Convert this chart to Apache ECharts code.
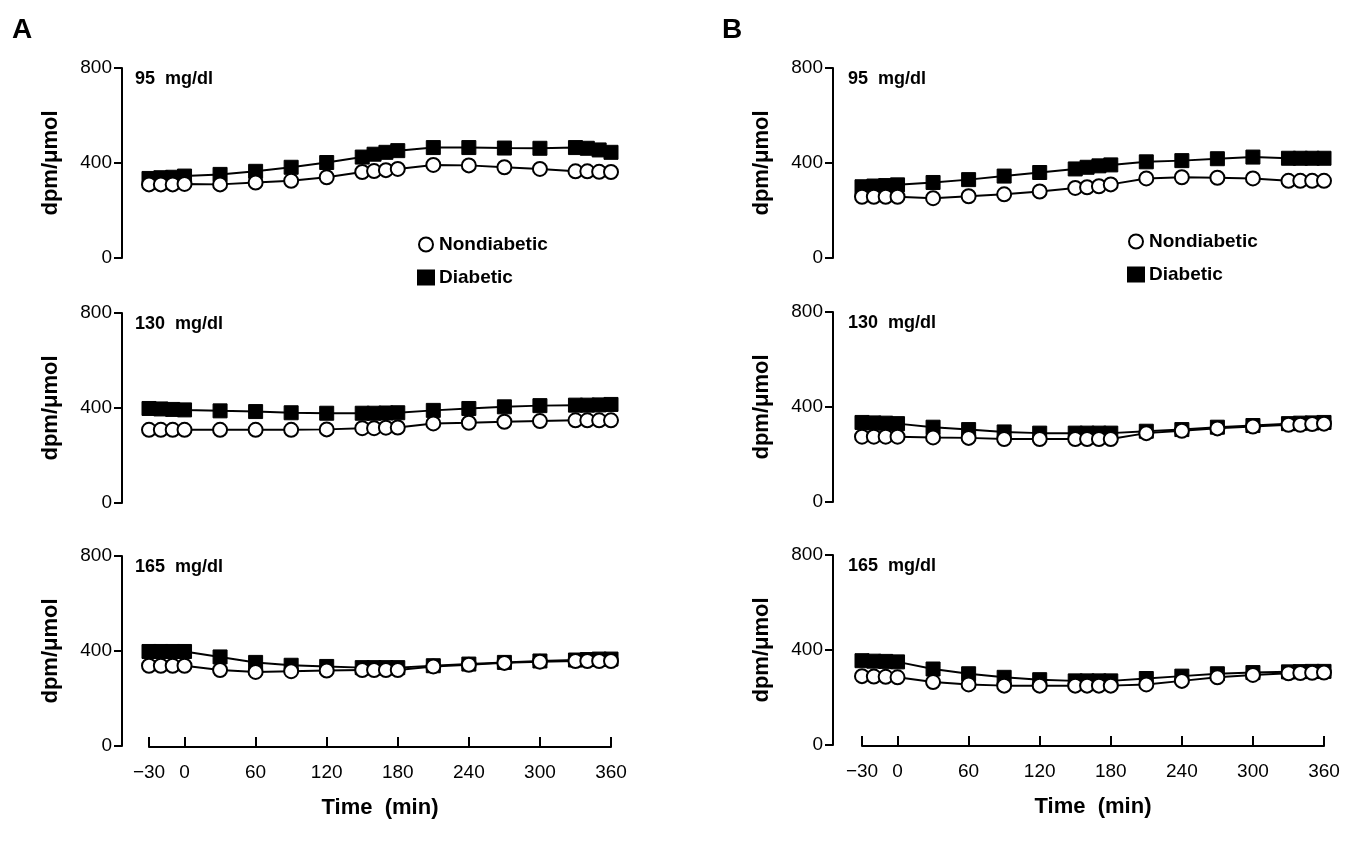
<!DOCTYPE html>
<html>
<head>
<meta charset="utf-8">
<script src="https://cdn.jsdelivr.net/npm/echarts@6/dist/echarts.min.js"></script>
<style>body{margin:0;background:#fff}#c{width:1358px;height:850px}</style>
</head>
<body>
<div id="c"></div>
<script>
var times = [-30, -20, -10, 0, 30, 60, 90, 120, 150, 160, 170, 180, 210, 240, 270, 300, 330, 340, 350, 360];
var xTicks = [-30, 0, 60, 120, 180, 240, 300, 360];
var yTicks = [0, 400, 800];
var glucose = ['95  mg/dl', '130  mg/dl', '165  mg/dl'];

// panel A
var aNon95 = [310, 310, 310, 312, 310, 318, 325, 340, 362, 366, 370, 375, 392, 390, 382, 375, 365, 365, 363, 362];
var aDia95 = [335, 338, 340, 345, 352, 365, 382, 402, 425, 437, 445, 452, 465, 465, 463, 462, 465, 462, 455, 445];
var aNon130 = [308, 308, 308, 308, 308, 308, 308, 310, 315, 315, 317, 318, 335, 338, 342, 345, 348, 348, 348, 348];
var aDia130 = [398, 396, 394, 392, 388, 385, 380, 378, 378, 378, 379, 380, 390, 398, 405, 410, 412, 412, 413, 415];
var aNon165 = [338, 338, 338, 338, 320, 312, 315, 318, 320, 320, 320, 320, 335, 342, 350, 355, 358, 358, 358, 358];
var aDia165 = [398, 398, 398, 398, 375, 352, 340, 335, 330, 330, 330, 330, 338, 345, 352, 358, 362, 364, 366, 366];
// panel B
var bNon95 = [258, 258, 258, 258, 252, 260, 268, 280, 295, 298, 302, 310, 335, 340, 338, 335, 325, 325, 325, 325];
var bDia95 = [300, 303, 305, 308, 318, 330, 345, 360, 375, 382, 388, 392, 405, 410, 418, 425, 420, 420, 420, 420];
var bNon130 = [275, 275, 275, 275, 272, 270, 265, 265, 265, 265, 265, 265, 290, 300, 310, 318, 325, 325, 328, 330];
var bDia130 = [335, 333, 332, 330, 315, 305, 295, 290, 290, 290, 290, 290, 298, 305, 315, 322, 330, 332, 333, 335];
var bNon165 = [290, 288, 287, 285, 265, 255, 250, 250, 250, 250, 250, 250, 255, 270, 285, 295, 302, 303, 304, 305];
var bDia165 = [355, 353, 352, 350, 320, 300, 285, 275, 270, 270, 270, 270, 280, 290, 300, 305, 308, 309, 310, 310];

var panels = [
  {left: 149, yOff: 27, tops: [68, 313, 556], non: [aNon95, aNon130, aNon165], dia: [aDia95, aDia130, aDia165]},
  {left: 862, yOff: 29, tops: [68, 312, 555], non: [bNon95, bNon130, bNon165], dia: [bDia95, bDia130, bDia165]}
];
var FONT = 'Liberation Sans';
var grids = [], xAxes = [], yAxes = [], series = [], graphics = [];

panels.forEach(function (p, pi) {
  p.tops.forEach(function (top, r) {
    var gi = grids.length;
    var bottom = r === 2;
    grids.push({left: p.left, top: top, width: 462, height: 190});
    xAxes.push({
      type: 'value', gridIndex: gi, min: -30, max: 360, interval: 30, show: bottom,
      position: 'bottom', offset: 1, splitLine: {show: false},
      axisLine: {onZero: false, lineStyle: {color: '#000', width: 2}},
      axisTick: {customValues: xTicks, length: -10, lineStyle: {color: '#000', width: 2}},
      axisLabel: {customValues: xTicks, color: '#000', fontSize: 19, fontFamily: FONT, margin: 16,
        formatter: function (v) { return v < 0 ? '\u2212' + Math.abs(v) : '' + v; }},
      name: bottom ? 'Time  (min)' : '', nameLocation: 'middle', nameGap: 50,
      nameTextStyle: {fontSize: 22, fontWeight: 'bold', fontFamily: FONT, color: '#000'}
    });
    yAxes.push({
      type: 'value', gridIndex: gi, min: 0, max: 800, interval: 400, offset: p.yOff,
      splitLine: {show: false},
      axisLine: {show: true, onZero: false, lineStyle: {color: '#000', width: 2}},
      axisTick: {length: 8, lineStyle: {color: '#000', width: 2}},
      axisLabel: {color: '#000', fontSize: 19, fontFamily: FONT, margin: 10},
      name: 'dpm/\u03bcmol', nameLocation: 'middle', nameGap: 60,
      nameTextStyle: {fontSize: 22, fontWeight: 'bold', fontFamily: FONT, color: '#000'}
    });
    series.push({
      name: 'Nondiabetic', type: 'line', xAxisIndex: gi, yAxisIndex: gi,
      data: times.map(function (t, i) { return [t, p.non[r][i]]; }),
      symbol: 'circle', symbolSize: 14, lineStyle: {color: '#000', width: 2},
      itemStyle: {color: '#fff', borderColor: '#000', borderWidth: 2}, z: 3
    });
    series.push({
      name: 'Diabetic', type: 'line', xAxisIndex: gi, yAxisIndex: gi,
      data: times.map(function (t, i) { return [t, p.dia[r][i]]; }),
      symbol: 'rect', symbolSize: 14, lineStyle: {color: '#000', width: 2},
      itemStyle: {color: '#000', borderColor: '#000', borderWidth: 1}, z: 2
    });
    graphics.push({type: 'text', left: p.left - 14, top: top + 2,
      style: {text: glucose[r], font: 'bold 18px ' + FONT, fill: '#000'}});
  });
});

graphics.push({type: 'text', left: 12, top: 16, style: {text: 'A', font: 'bold 28px ' + FONT, fill: '#000'}});
graphics.push({type: 'text', left: 722, top: 16, style: {text: 'B', font: 'bold 28px ' + FONT, fill: '#000'}});

var legendBase = {orient: 'vertical', itemGap: 14, itemWidth: 16, itemHeight: 14,
  textStyle: {fontSize: 19, fontWeight: 'bold', fontFamily: FONT, color: '#000'},
  selectedMode: false,
  data: [{name: 'Nondiabetic', icon: 'circle'}, {name: 'Diabetic', icon: 'rect'}]};

var chart = echarts.init(document.getElementById('c'));
chart.setOption({
  backgroundColor: '#fff',
  animation: false,
  legend: [
    Object.assign({left: 412, top: 230}, legendBase),
    Object.assign({left: 1122, top: 227}, legendBase)
  ],
  grid: grids, xAxis: xAxes, yAxis: yAxes, series: series, graphic: graphics
});
</script>
</body>
</html>
